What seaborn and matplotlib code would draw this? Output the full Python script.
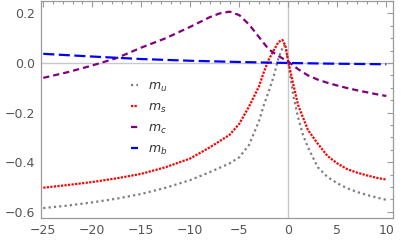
import numpy as np
import pandas as pd
import matplotlib
matplotlib.use("Agg")
import matplotlib.pyplot as plt
import seaborn as sns
from matplotlib.ticker import MultipleLocator

# ---- data ----
x_u = [-25, -22.5, -20, -17.5, -15, -12.5, -10, -8, -6, -5, -4, -3, -2.5, -2, -1.5, -1, -0.6, -0.4, -0.2, 0,
       0.5, 1, 1.5, 2, 3, 4, 5, 6, 7, 8, 9, 10]
y_u = [-0.585, -0.575, -0.562, -0.547, -0.528, -0.503, -0.472, -0.44, -0.405, -0.38, -0.33, -0.235, -0.17, -0.115,
       -0.055, 0.02, 0.06, 0.072, 0.05, 0.0,
       -0.13, -0.22, -0.29, -0.34, -0.42, -0.46, -0.485, -0.505, -0.52, -0.532, -0.542, -0.552]

x_s = [-25, -22.5, -20, -17.5, -15, -12.5, -10, -8, -6, -5, -4, -3, -2.5, -2, -1.5, -1, -0.6, -0.3, 0,
       0.5, 1, 1.5, 2, 3, 4, 5, 6, 7, 8, 9, 10]
y_s = [-0.503, -0.492, -0.48, -0.465, -0.447, -0.42, -0.385, -0.34, -0.29, -0.245, -0.175, -0.095, -0.037, 0.013,
       0.05, 0.085, 0.093, 0.07, 0.005,
       -0.085, -0.17, -0.22, -0.27, -0.325, -0.375, -0.405, -0.428, -0.442, -0.453, -0.463, -0.47]

x_c = [-25, -22.5, -20, -17.5, -15, -12.5, -10, -8, -7, -6, -5, -4, -3, -2, -1, 0, 1, 2, 3, 4, 5, 6, 7, 8, 9, 10]
y_c = [-0.06, -0.037, -0.01, 0.02, 0.062, 0.10, 0.146, 0.185, 0.2, 0.207, 0.193, 0.155, 0.105, 0.055, 0.028, 0.005,
       -0.025, -0.05, -0.067, -0.08, -0.091, -0.101, -0.11, -0.118, -0.126, -0.133]

x_b = [-25, -20, -15, -10, -5, 0, 5, 10]
y_b = [0.037, 0.026, 0.016, 0.009, 0.004, 0.0, -0.003, -0.005]

labels = ["$m_u$", "$m_s$", "$m_c$", "$m_b$"]

frames = []
for lab, xs, ys in zip(labels, [x_u, x_s, x_c, x_b], [y_u, y_s, y_c, y_b]):
    frames.append(pd.DataFrame({"x": xs, "y": ys, "series": lab}))
df = pd.concat(frames, ignore_index=True)

sns.set_style("white")
plt.rcParams["font.family"] = ["DejaVu Sans"]

fig = plt.figure(figsize=(4.15, 2.48), dpi=100)
ax = fig.add_axes([0.0988, 0.121, 0.8475, 0.875])

palette = {labels[0]: "#7f7f7f", labels[1]: "#ff0000", labels[2]: "#800080", labels[3]: "#0000ff"}
styles = {labels[0]: (0, (1.0, 1.4)), labels[1]: (0, (1.0, 0.6)), labels[2]: (0, (2.8, 1.8)), labels[3]: (0, (5.0, 2.0))}

# reference axes lines
ax.axhline(0, color="#c8c8c8", lw=1.0, zorder=0)
ax.axvline(0, color="#c8c8c8", lw=1.0, zorder=0)

for lab in labels:
    sns.lineplot(data=df[df.series == lab], x="x", y="y", ax=ax, color=palette[lab],
                 lw=1.6, label=lab, sort=False, legend=False)

handles = []
for ln in ax.get_lines():
    lab = ln.get_label()
    if lab in styles:
        ln.set_linestyle(styles[lab])
        ln.set_dash_capstyle("butt")
        handles.append(ln)

ax.set_xlim(-25.23, 10.65)
ax.set_ylim(-0.625, 0.25)
ax.set_xlabel("")
ax.set_ylabel("")

ax.xaxis.set_major_locator(MultipleLocator(5))
ax.xaxis.set_minor_locator(MultipleLocator(1))
ax.yaxis.set_major_locator(MultipleLocator(0.2))
ax.yaxis.set_minor_locator(MultipleLocator(0.05))
ax.tick_params(which="both", direction="in", top=True, right=True, color="#9a9a9a",
               labelcolor="#555555", labelsize=9, width=0.8)
ax.tick_params(which="major", length=4, pad=4)
ax.tick_params(which="minor", length=2)
ax.xaxis.set_major_formatter(matplotlib.ticker.FuncFormatter(lambda v, p: f"{v:.0f}".replace("-", "\u2212")))
ax.yaxis.set_major_formatter(matplotlib.ticker.FuncFormatter(
    lambda v, p: ("0.0" if abs(v) < 1e-9 else f"{v:.1f}".replace("-", "\u2212"))))
for s in ax.spines.values():
    s.set_color("#9a9a9a")
    s.set_linewidth(0.9)

leg = ax.legend(handles=handles, labels=labels, loc="upper left", bbox_to_anchor=(0.243, 0.66),
                frameon=False, fontsize=9, handlelength=0.5, labelspacing=0.55, handletextpad=0.8,
                borderaxespad=0)
for t in leg.get_texts():
    t.set_color("#333333")

fig.savefig("out.png", dpi=100)
